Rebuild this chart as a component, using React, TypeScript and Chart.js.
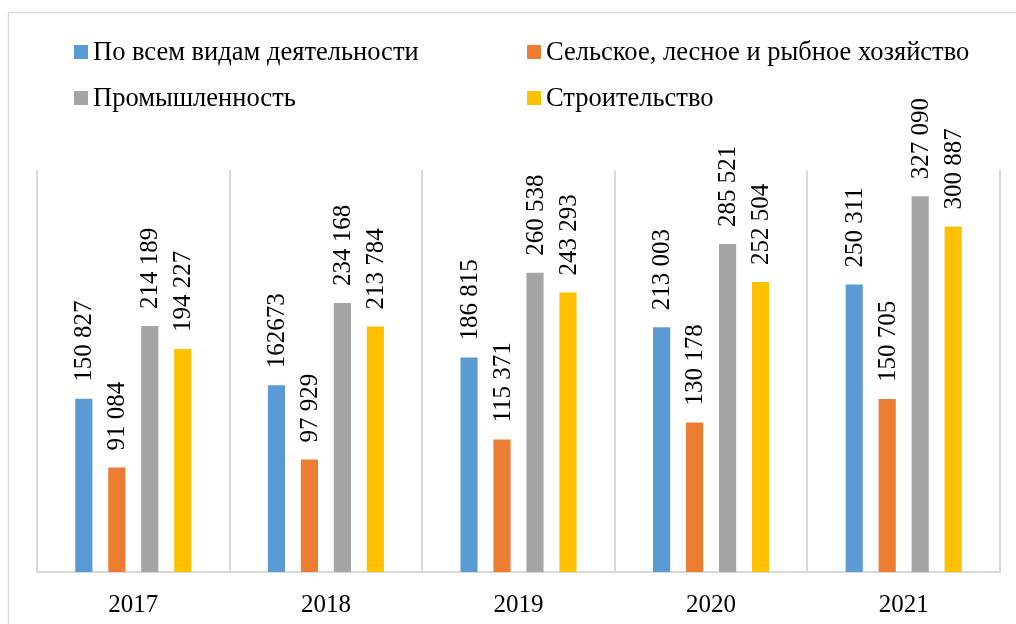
import React, { useEffect, useRef } from "react";
import { Chart, registerables } from "chart.js";

Chart.register(...registerables);

const categories = ["2017", "2018", "2019", "2020", "2021"];
const seriesNames = [
  "По всем видам деятельности",
  "Сельское, лесное и рыбное хозяйство",
  "Промышленность",
  "Строительство",
];
const allActivities = [150827, 162673, 186815, 213003, 250311];
const agriculture = [91084, 97929, 115371, 130178, 150705];
const industry = [214189, 234168, 260538, 285521, 327090];
const construction = [194227, 213784, 243293, 252504, 300887];
const allActivitiesLabels = ["150 827", "162673", "186 815", "213 003", "250 311"];
const agricultureLabels = ["91 084", "97 929", "115 371", "130 178", "150 705"];
const industryLabels = ["214 189", "234 168", "260 538", "285 521", "327 090"];
const constructionLabels = ["194 227", "213 784", "243 293", "252 504", "300 887"];
const colors = ["#5B9BD5", "#ED7D31", "#A5A5A5", "#FFC000"];

const FONT = "'Liberation Serif', 'Times New Roman', serif";

const framePlugin = {
  id: "frame",
  beforeDraw(chart: any) {
    const ctx = chart.ctx;
    ctx.save();
    ctx.strokeStyle = "#d9d9d9";
    ctx.lineWidth = 1.5;
    ctx.beginPath();
    ctx.moveTo(8.5, chart.height);
    ctx.lineTo(8.5, 12.5);
    ctx.lineTo(chart.width, 12.5);
    ctx.stroke();
    ctx.restore();
  },
};

const legendPlugin = {
  id: "customLegend",
  afterDraw(chart: any) {
    const ctx = chart.ctx;
    const positions = [
      { x: 74, y: 52 },
      { x: 527, y: 52 },
      { x: 74, y: 98 },
      { x: 527, y: 98 },
    ];
    ctx.save();
    ctx.font = `26.5px ${FONT}`;
    ctx.textBaseline = "middle";
    ctx.textAlign = "left";
    chart.data.datasets.forEach((ds: any, i: number) => {
      const p = positions[i];
      ctx.fillStyle = ds.backgroundColor;
      ctx.fillRect(p.x, p.y - 7, 14, 14);
      ctx.fillStyle = "#000";
      ctx.fillText(ds.label, p.x + 19, p.y + 1);
    });
    ctx.restore();
  },
};

const labelPlugin = {
  id: "valueLabels",
  afterDatasetsDraw(chart: any) {
    const ctx = chart.ctx;
    ctx.save();
    ctx.font = `25px ${FONT}`;
    ctx.fillStyle = "#000";
    ctx.textAlign = "left";
    ctx.textBaseline = "middle";
    chart.data.datasets.forEach((ds: any, i: number) => {
      const meta = chart.getDatasetMeta(i);
      meta.data.forEach((bar: any, j: number) => {
        const text = ds.valueLabels[j];
        ctx.save();
        ctx.translate(bar.x + 1, bar.y - 17);
        ctx.rotate(-Math.PI / 2);
        ctx.fillText(text, 0, 0);
        ctx.restore();
      });
    });
    ctx.restore();
  },
};

export default function App() {
  const ref = useRef<HTMLCanvasElement | null>(null);
  useEffect(() => {
    if (!ref.current) return;
    const values = [allActivities, agriculture, industry, construction];
    const labels = [allActivitiesLabels, agricultureLabels, industryLabels, constructionLabels];
    const chart = new Chart(ref.current, {
      type: "bar",
      data: {
        labels: categories,
        datasets: seriesNames.map((name, i) => ({
          label: name,
          data: values[i],
          backgroundColor: colors[i],
          categoryPercentage: 0.685,
          barPercentage: 0.52,
          valueLabels: labels[i],
        })) as any,
      },
      options: {
        animation: false,
        responsive: false,
        maintainAspectRatio: false,
        layout: { padding: { left: 37, right: 16, top: 170, bottom: 4 } },
        plugins: { legend: { display: false }, tooltip: { enabled: false } },
        scales: {
          x: {
            grid: { color: "#d9d9d9", lineWidth: 2, drawTicks: false, offset: true },
            border: { display: true, color: "#d9d9d9", width: 2 },
            ticks: { color: "#000", font: { family: FONT, size: 25 }, padding: 18 },
            afterFit: (scale: any) => {
              scale.height = 48;
            },
          },
          y: { display: false, min: 0, max: 350000 },
        },
      },
      plugins: [framePlugin, legendPlugin, labelPlugin],
    });
    return () => chart.destroy();
  }, []);
  return (
    <div style={{ position: "fixed", left: 0, top: 0, width: 1016, height: 624, background: "#fff" }}>
      <canvas ref={ref} width={1016} height={624} style={{ width: 1016, height: 624, display: "block" }} />
    </div>
  );
}
